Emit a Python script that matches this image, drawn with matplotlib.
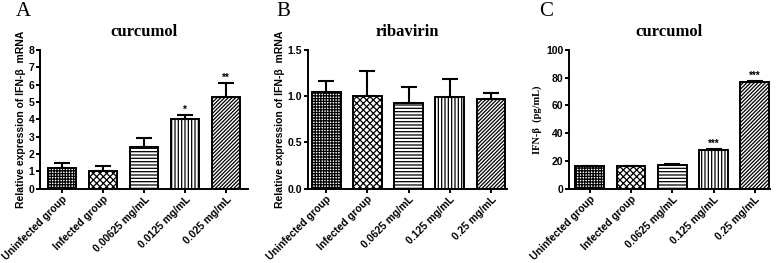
import numpy as np
import matplotlib
matplotlib.use('Agg')
import matplotlib.pyplot as plt

plt.rcParams['hatch.linewidth'] = 0.9
plt.rcParams['font.family'] = ['Liberation Sans', 'DejaVu Sans']

# data
labels_a = ['Uninfected group', 'Infected group', '0.00625 mg/mL', '0.0125 mg/mL', '0.025 mg/mL']
labels_bc = ['Uninfected group', 'Infected group', '0.0625 mg/mL', '0.125 mg/mL', '0.25 mg/mL']

mean_a = [1.19, 1.02, 2.40, 4.00, 5.28]
err_a = [0.29, 0.27, 0.53, 0.27, 0.81]
sig_a = ['', '', '', '*', '**']

mean_b = [1.04, 1.00, 0.93, 0.99, 0.97]
err_b = [0.12, 0.27, 0.17, 0.20, 0.06]
sig_b = ['', '', '', '', '']

mean_c = [16.0, 16.1, 17.3, 27.9, 76.8]
err_c = [0.3, 0.3, 0.4, 0.7, 0.8]
sig_c = ['', '', '', '***', '***']

hatches = ['++++++', 'xxxxx', '-----', '|||||', '/////////']

serif = 'Liberation Serif'


def panel(ax, means, errs, sigs, labels, ylim, yticks, yticklabels, ylabel,
          title, xlim, ylabel_serif=False):
    x = np.arange(len(means))
    bars = ax.bar(x, means, width=0.7, color='white', edgecolor='black',
                  linewidth=1.4, zorder=2)
    for b, h in zip(bars, hatches):
        b.set_hatch(h)
    ax.errorbar(x, means, yerr=[np.zeros(len(errs)), errs], fmt='none',
                ecolor='black', elinewidth=1.5, capsize=5.5, capthick=1.5, zorder=3)
    for xi, m, e, s in zip(x, means, errs, sigs):
        if s:
            ax.text(xi, m + e, s, ha='center', va='bottom',
                    fontsize=7, fontweight='bold')
    ax.set_xlim(*xlim)
    ax.set_ylim(*ylim)
    ax.set_yticks(yticks)
    ax.set_yticklabels(yticklabels, fontsize=7.5, fontweight='bold')
    ax.set_xticks(x)
    ax.set_xticklabels(labels, rotation=45, ha='right', rotation_mode='anchor',
                       fontsize=7.5, fontweight='bold')
    for sp in ['top', 'right']:
        ax.spines[sp].set_visible(False)
    for sp in ['left', 'bottom']:
        ax.spines[sp].set_linewidth(1.4)
    ax.tick_params(width=1.4, length=3, pad=1)
    if ylabel_serif:
        ax.set_ylabel(ylabel, fontsize=7.5, fontweight='bold', family=serif, labelpad=3)
    else:
        ax.set_ylabel(ylabel, fontsize=7.5, fontweight='bold', labelpad=2)
    ax.set_title(title, fontsize=12, fontweight='bold', family=serif, pad=10)


fig = plt.figure(figsize=(7.77, 2.63), dpi=100)

ax1 = fig.add_axes([0.0515, 0.283, 0.268, 0.527])
ax2 = fig.add_axes([0.396, 0.283, 0.257, 0.527])
ax3 = fig.add_axes([0.732, 0.283, 0.259, 0.527])

panel(ax1, mean_a, err_a, sig_a, labels_a, (0, 8), range(0, 9),
      [str(v) for v in range(0, 9)], 'Relative expression of IFN-β  mRNA',
      'curcumol', (-0.54, 4.54))
panel(ax2, mean_b, err_b, sig_b, labels_bc, (0, 1.5), [0, 0.5, 1.0, 1.5],
      ['0.0', '0.5', '1.0', '1.5'], 'Relative expression of IFN-β  mRNA',
      'ribavirin', (-0.45, 4.4))
panel(ax3, mean_c, err_c, sig_c, labels_bc, (0, 100), range(0, 101, 20),
      [str(v) for v in range(0, 101, 20)], 'IFN-β  (pg/mL)',
      'curcumol', (-0.51, 4.37), ylabel_serif=True)

for lx, letter in zip([23, 283, 546], ['A', 'B', 'C']):
    fig.text(lx / 777, 1 - 11 / 263, letter, ha='center', va='center',
             fontsize=15, family=serif)

fig.savefig('out.png', dpi=100)
